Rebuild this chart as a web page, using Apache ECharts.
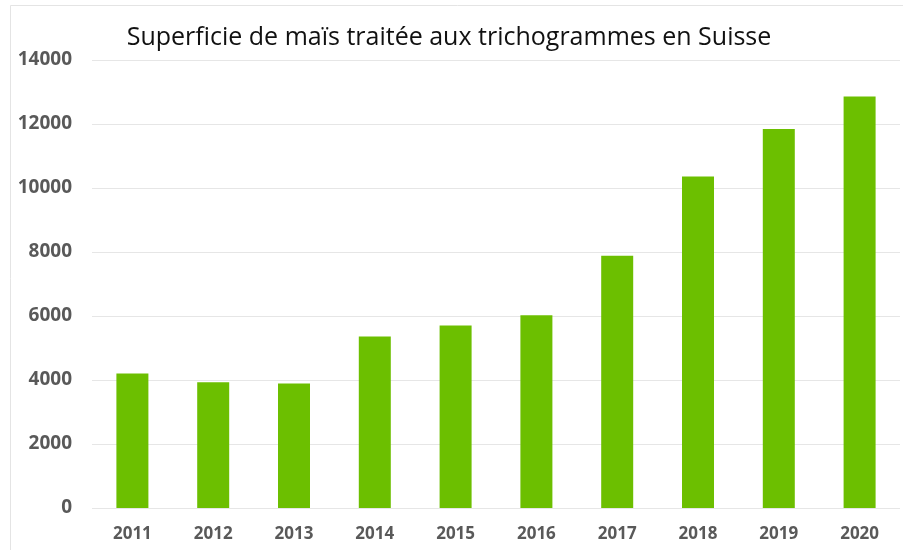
<!DOCTYPE html>
<html>
<head>
<meta charset="utf-8">
<script src="https://cdn.jsdelivr.net/npm/echarts@6/dist/echarts.min.js"></script>
<style>
html,body{margin:0;padding:0;background:#fff;}
#chart{width:903px;height:550px;}
</style>
</head>
<body>
<div id="chart"></div>
<script>
const titleText = "Superficie de maïs traitée aux trichogrammes en Suisse";
const years = ["2011","2012","2013","2014","2015","2016","2017","2018","2019","2020"];
const surfaces = [4200, 3930, 3890, 5360, 5700, 6020, 7880, 10360, 11840, 12860];
const yMin = 0, yMax = 14000, yStep = 2000;

const chart = echarts.init(document.getElementById('chart'), null, {renderer:'canvas'});
chart.setOption({
  backgroundColor: '#ffffff',
  animation: false,
  title: {
    text: titleText,
    left: 444, top: 20, textAlign: 'center',
    textStyle: {fontFamily: 'Open Sans', fontWeight: 'normal', fontSize: 25, color: '#111111'}
  },
  graphic: [{
    type: 'rect', shape: {x: 10.5, y: 5.5, width: 900, height: 560},
    style: {fill: 'none', stroke: '#e4e4e4', lineWidth: 1}, silent: true
  }],
  grid: {left: 92, right: 3, top: 60, bottom: 42, containLabel: false},
  xAxis: {
    type: 'category', data: years,
    axisLine: {show: false}, axisTick: {show: false},
    axisLabel: {margin: 18, color: '#595959', fontFamily: 'Open Sans', fontWeight: 'bold', fontSize: 17}
  },
  yAxis: {
    type: 'value', min: yMin, max: yMax, interval: yStep,
    axisLine: {show: false}, axisTick: {show: false},
    splitLine: {lineStyle: {color: '#e6e6e6', width: 1}},
    axisLabel: {margin: 20, color: '#595959', fontFamily: 'Open Sans', fontWeight: 'bold', fontSize: 19,
      formatter: function (v) { return String(v); }}
  },
  series: [{
    type: 'bar', data: surfaces, barWidth: 32,
    itemStyle: {color: '#6cbf00'}
  }]
});
</script>
</body>
</html>
